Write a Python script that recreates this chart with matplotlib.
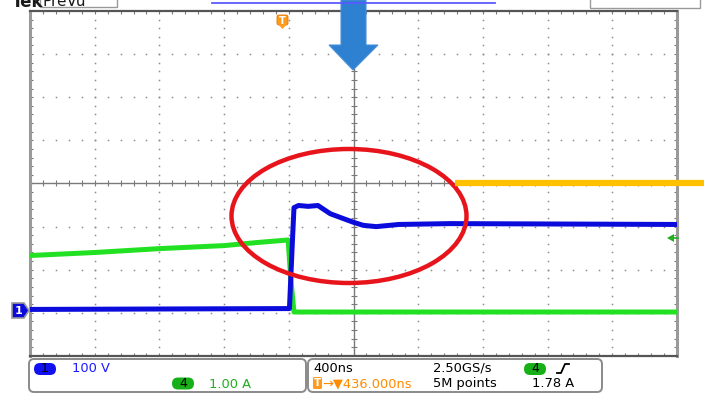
import numpy as np
import matplotlib
matplotlib.use("Agg")
from matplotlib import pyplot as plt
from matplotlib.patches import Polygon, Ellipse, FancyBboxPatch

# trace data, in screen divisions (x: 400 ns/div, y: 100 V/div and 1 A/div)
green_t = [-5.0, -4.0, -3.0, -2.0, -1.5, -1.01, -0.97, -0.92, 0.0, 2.5, 5.0]
green_v = [-1.67, -1.60, -1.51, -1.44, -1.37, -1.31, -2.2, -2.98, -2.98, -2.98, -2.98]

blue_t = [-5.0, -0.99, -0.95, -0.92, -0.85, -0.70, -0.55, -0.36, -0.2, 0.0,
          0.15, 0.35, 0.7, 1.5, 5.0]
blue_v = [-2.92, -2.90, -1.53, -0.56, -0.51, -0.53, -0.51, -0.70, -0.79, -0.90,
          -0.97, -1.00, -0.95, -0.93, -0.95]

ch1_label = "100 V"
ch4_label = "1.00 A"
timebase = "400ns"
sample_rate = "2.50GS/s"
record_len = "5M points"
trig_pos = "\u2192\u25bc436.000ns"
trig_level = "1.78 A"

W, H = 704, 412
BLUE = "#0b0bdc"
GREEN = "#22e022"
GRID = "#8c8c8c"

fig = plt.figure(figsize=(W / 100, H / 100), dpi=100)
fig.patch.set_facecolor("white")

# scope screen
ax = fig.add_axes([30 / W, 1 - 356 / H, (677 - 30) / W, (356 - 11) / H])
ax.set_xlim(-5, 5)
ax.set_ylim(-4, 4)
ax.set_xticks([])
ax.set_yticks([])
for side in ["left", "right"]:
    ax.spines[side].set_color("#9a9a9a")
    ax.spines[side].set_linewidth(2.2)
for side in ["top", "bottom"]:
    ax.spines[side].set_color("#555555")
    ax.spines[side].set_linewidth(1.6)

# graticule
fine_x = np.arange(-5, 5.001, 0.2)
fine_y = np.arange(-4, 4.001, 0.2)
for gx in [-4, -3, -2, -1, 1, 2, 3, 4]:
    ax.plot([gx] * len(fine_y), fine_y, ls="none", marker="s", ms=1.1,
            mew=0, color=GRID)
for gy in [-3, -2, -1, 1, 2, 3]:
    ax.plot(fine_x, [gy] * len(fine_x), ls="none", marker="s", ms=1.1,
            mew=0, color=GRID)
ax.axhline(0, color="#7a7a7a", lw=1.0)
ax.axvline(0, color="#7a7a7a", lw=1.0)
ax.plot(fine_x, [0] * len(fine_x), ls="none", marker="|", ms=4, mew=0.8, color="#7a7a7a")
ax.plot([0] * len(fine_y), fine_y, ls="none", marker="_", ms=4, mew=0.8, color="#7a7a7a")
for yb in [-4, 4]:
    ax.plot(fine_x, [yb] * len(fine_x), ls="none", marker="|", ms=5, mew=0.8, color="#7a7a7a")
for xb in [-5, 5]:
    ax.plot([xb] * len(fine_y), fine_y, ls="none", marker="_", ms=5, mew=0.8, color="#7a7a7a")

# traces
ax.plot(green_t, green_v, color=GREEN, lw=3.6, solid_joinstyle="round", zorder=3)
ax.plot(blue_t, blue_v, color=BLUE, lw=3.6, solid_joinstyle="round", zorder=4)

# overlay in pixel coordinates
ov = fig.add_axes([0, 0, 1, 1], zorder=5)
ov.set_xlim(0, W)
ov.set_ylim(H, 0)
ov.axis("off")
ov.patch.set_alpha(0)

# header
ov.text(12, 7, "Tek", fontsize=12, fontweight="bold", color="#1a1a1a",
        va="baseline", ha="left")
ov.add_patch(FancyBboxPatch((40, -10), 77, 17, boxstyle="square,pad=0",
                            fc="white", ec="#9a9a9a", lw=1))
ov.text(42, 6, "PreVu", fontsize=11, color="#1a1a1a", va="baseline", ha="left")
ov.plot([212, 495], [2.5, 2.5], color="#5a5aff", lw=1.3)
ov.add_patch(FancyBboxPatch((590, -10), 110, 18, boxstyle="square,pad=0",
                            fc="white", ec="#9a9a9a", lw=1))

# trigger marker at top
ov.add_patch(FancyBboxPatch((277, 15), 11, 10, boxstyle="round,pad=0,rounding_size=2",
                            fc="#ff9a1a", ec="#e07800", lw=0.6))
ov.add_patch(Polygon([[278, 24], [287, 24], [282.5, 29]], closed=True,
                     fc="#ff9a1a", ec="none"))
ov.text(282.5, 20.5, "T", fontsize=7, fontweight="bold", color="white",
        ha="center", va="center")

# channel 1 ground marker
ov.add_patch(Polygon([[12, 303], [24, 303], [29, 310.5], [24, 318], [12, 318]],
                     closed=True, fc=BLUE, ec="#9a9a9a", lw=1.2))
ov.text(19, 310.5, "1", fontsize=8, color="white", ha="center", va="center",
        fontweight="bold")

# channel 4 trigger level marker
ov.add_patch(Polygon([[667, 238], [674, 234], [674, 242]], closed=True,
                     fc="#22b022", ec="none"))
ov.plot([673, 678], [238, 238], color="#22b022", lw=1.2)

# callouts
ov.add_patch(Polygon([[341, 0], [366, 0], [366, 45], [378, 45], [353, 70],
                      [329, 45], [341, 45]], closed=True, fc="#2e80d0",
                     ec="#4a90d8", lw=0.8))
ov.add_patch(Ellipse((349, 216), 235, 134, fill=False, ec="#e8141c", lw=3.2))
ov.plot([455, 704], [183, 183], color="#ffc000", lw=4.5, solid_capstyle="butt")

# bottom readout panels
for x0, x1 in [(29, 306), (308, 602)]:
    ov.add_patch(FancyBboxPatch((x0, 359), x1 - x0, 33,
                                boxstyle="round,pad=0,rounding_size=5",
                                fc="white", ec="#8a8a8a", lw=1.4))

def pill(cx, cy, txt, color):
    ov.add_patch(FancyBboxPatch((cx - 11, cy - 6), 22, 12,
                                boxstyle="round,pad=0,rounding_size=6",
                                fc=color, ec="none"))
    ov.text(cx, cy, txt, fontsize=9, color="black", ha="center", va="center")

fs = 9.4
pill(45, 369, "1", "#1010f0")
ov.text(72, 369, ch1_label, fontsize=fs, color="#1a1aff", va="center")
pill(183, 383.5, "4", "#18b018")
ov.text(209, 384, ch4_label, fontsize=fs, color="#20b020", va="center")

ov.text(313, 368, timebase, fontsize=fs, color="black", va="center")
ov.text(433, 368, sample_rate, fontsize=fs, color="black", va="center")
pill(535, 369, "4", "#18b018")
ov.plot([557, 561, 565, 569], [373, 373, 364, 364], color="black", lw=1.3)

ov.add_patch(FancyBboxPatch((313, 377), 9, 12, boxstyle="round,pad=0,rounding_size=1.5",
                            fc="#ff9a1a", ec="none"))
ov.text(317.5, 383, "T", fontsize=7.5, fontweight="bold", color="white",
        ha="center", va="center")
ov.text(322, 383.5, trig_pos, fontsize=fs, color="#ff8c00", va="center")
ov.text(433, 383.5, record_len, fontsize=fs, color="black", va="center")
ov.text(532, 383.5, trig_level, fontsize=fs, color="black", va="center")

fig.savefig("out.png", dpi=100)
